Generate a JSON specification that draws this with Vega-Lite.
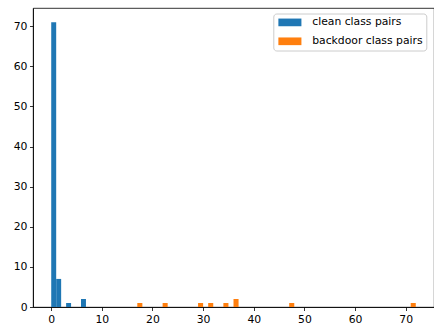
{
  "$schema": "https://vega.github.io/schema/vega-lite/v6.json",
  "autosize": {"type": "none"},
  "padding": {"left": 33, "top": 8, "right": 0, "bottom": 21},
  "width": 401,
  "height": 299,
  "background": "white",
  "data": {
    "values": [
      {"series": "clean class pairs", "b0": 0, "b1": 0.98, "count": 71},
      {"series": "clean class pairs", "b0": 0.98, "b1": 1.96, "count": 7},
      {"series": "clean class pairs", "b0": 2.94, "b1": 3.92, "count": 1},
      {"series": "clean class pairs", "b0": 5.88, "b1": 6.86, "count": 2},
      {"series": "backdoor class pairs", "b0": 17, "b1": 18, "count": 1},
      {"series": "backdoor class pairs", "b0": 22, "b1": 23, "count": 1},
      {"series": "backdoor class pairs", "b0": 29, "b1": 30, "count": 1},
      {"series": "backdoor class pairs", "b0": 31, "b1": 32, "count": 1},
      {"series": "backdoor class pairs", "b0": 34, "b1": 35, "count": 1},
      {"series": "backdoor class pairs", "b0": 36, "b1": 37, "count": 2},
      {"series": "backdoor class pairs", "b0": 47, "b1": 48, "count": 1},
      {"series": "backdoor class pairs", "b0": 71, "b1": 72, "count": 1}
    ]
  },
  "mark": {"type": "bar", "strokeWidth": 0, "opacity": 1},
  "encoding": {
    "x": {
      "field": "b0", "type": "quantitative",
      "scale": {"domain": [-3.6, 75.6], "nice": false, "zero": false},
      "axis": {"values": [0, 10, 20, 30, 40, 50, 60, 70], "title": null, "grid": false}
    },
    "x2": {"field": "b1"},
    "y": {
      "field": "count", "type": "quantitative",
      "scale": {"domain": [0, 74.55], "nice": false},
      "axis": {"values": [0, 10, 20, 30, 40, 50, 60, 70], "title": null, "grid": false}
    },
    "y2": {"datum": 0},
    "color": {
      "field": "series", "type": "nominal",
      "scale": {"domain": ["clean class pairs", "backdoor class pairs"], "range": ["#1f77b4", "#ff7f0e"]},
      "legend": {
        "title": null,
        "orient": "none",
        "legendX": 240.3,
        "legendY": 5.5,
        "fillColor": "white",
        "strokeColor": "#cccccc",
        "cornerRadius": 3,
        "padding": 3.5,
        "symbolType": "M-3,-1H3V1H-3Z",
        "symbolSize": 59,
        "symbolOffset": 7.7,
        "symbolStrokeWidth": 0,
        "symbolOpacity": 1,
        "labelFont": "DejaVu Sans",
        "labelFontSize": 10.8,
        "labelColor": "black",
        "labelOffset": 16.9,
        "rowPadding": 6.9
      }
    }
  },
  "config": {
    "view": {"stroke": "black", "strokeWidth": 0.8},
    "axis": {
      "domainColor": "black",
      "domainWidth": 0.8,
      "tickColor": "black",
      "tickWidth": 0.8,
      "tickSize": 3.5,
      "labelFont": "DejaVu Sans",
      "labelFontSize": 10.8,
      "labelColor": "black",
      "labelPadding": 2.5
    }
  }
}
